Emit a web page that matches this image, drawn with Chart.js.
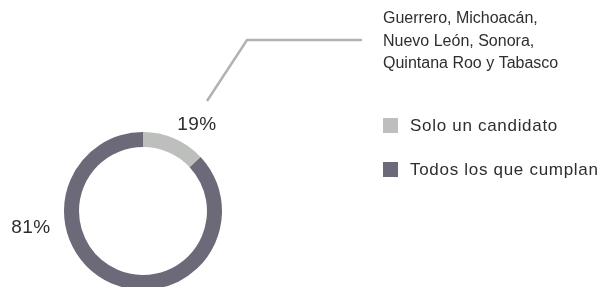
<!DOCTYPE html>
<html>
<head>
<meta charset="utf-8">
<script src="https://cdn.jsdelivr.net/npm/chart.js@4/dist/chart.umd.min.js"></script>
<style>
  html, body { margin: 0; padding: 0; background: #fff; overflow: hidden; }
  #wrap { position: relative; width: 602px; height: 300px; }
</style>
</head>
<body>
<div id="wrap"><canvas id="chart"></canvas></div>
<script>
/* Doughnut: candidate selection share, with callout + side legend. */

const categories = ["Solo un candidato", "Todos los que cumplan"];
// ring split as drawn in the picture
const ringValues = [13, 87];
const pctLabels = ["19%", "81%"];
const calloutLines = ["Guerrero, Michoacán,", "Nuevo León, Sonora,", "Quintana Roo y Tabasco"];

const COLORS = ["#bdbfbd", "#6c6a78"];
const FONT = "'Liberation Sans', Arial, sans-serif";
const TEXT = "#2e2e2e";

const extras = {
  id: "extras",
  afterDraw(chart) {
    const ctx = chart.ctx;
    const c = chart.getDatasetMeta(0).data[0];
    ctx.save();

    // percent labels, placed relative to the ring centre
    ctx.fillStyle = TEXT;
    ctx.font = "19px " + FONT;
    ctx.letterSpacing = "0.5px";
    ctx.textBaseline = "middle";
    ctx.textAlign = "center";
    ctx.fillText(pctLabels[0], c.x + 54, c.y - 86);
    ctx.fillText(pctLabels[1], c.x - 112, c.y + 17);

    // leader line to the callout
    ctx.strokeStyle = "#b2b2b2";
    ctx.lineWidth = 2.5;
    ctx.beginPath();
    ctx.moveTo(c.x + 64, c.y - 110);
    ctx.lineTo(c.x + 104, c.y - 171);
    ctx.lineTo(c.x + 219, c.y - 171);
    ctx.stroke();

    // callout text
    ctx.textAlign = "left";
    ctx.letterSpacing = "0px";
    ctx.font = "16px " + FONT;
    calloutLines.forEach((t, i) => ctx.fillText(t, 383, 19 + i * 22.5));

    // legend
    ctx.font = "17px " + FONT;
    ctx.letterSpacing = "0.7px";
    categories.forEach((name, i) => {
      const y = 126 + i * 44;
      ctx.fillStyle = COLORS[i];
      ctx.fillRect(383, y - 8, 15, 15);
      ctx.fillStyle = TEXT;
      ctx.fillText(name, 410, y);
    });
    ctx.restore();
  },
};

new Chart(document.getElementById("chart"), {
  type: "doughnut",
  data: {
    labels: categories,
    datasets: [{
      data: ringValues,
      backgroundColor: COLORS,
      borderWidth: 0,
    }],
  },
  options: {
    responsive: true,
    maintainAspectRatio: false,
    animation: false,
    cutout: "81%",
    layout: { padding: { left: 64, right: 380, top: 132, bottom: 10 } },
    plugins: { legend: { display: false }, tooltip: { enabled: false } },
  },
  plugins: [extras],
});
</script>
</body>
</html>
